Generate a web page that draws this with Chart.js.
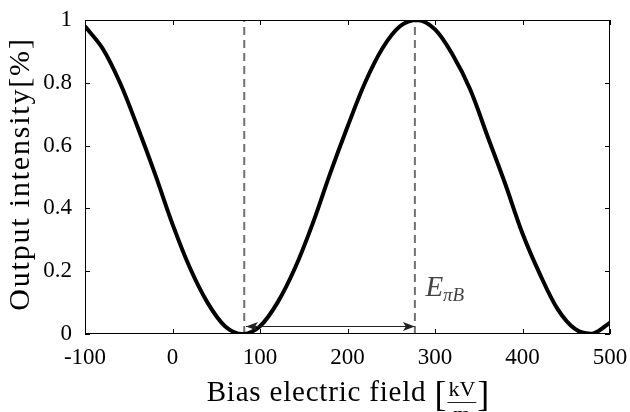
<!DOCTYPE html>
<html>
<head>
<meta charset="utf-8">
<script src="https://cdn.jsdelivr.net/npm/chart.js@4"></script>
<style>
  html, body { margin: 0; padding: 0; background: #fff; }
</style>
</head>
<body>
<canvas id="chart" width="630" height="412"></canvas>
<script>
// bias field [kV/m] and output intensity
const fieldKV = [-100, -80, -60, -40, -20, 0, 20, 40, 60, 80, 100, 120, 140, 160, 180, 200,
    220, 240, 260, 280, 300, 320, 340, 360, 380, 400, 420, 440, 460, 480, 500];
const intensity = [0.98, 0.91, 0.80, 0.66, 0.51, 0.35, 0.21, 0.10, 0.025, 0, 0.025, 0.10, 0.21, 0.35, 0.51, 0.66,
    0.80, 0.91, 0.98, 1.0, 0.97, 0.89, 0.78, 0.63, 0.48, 0.32, 0.19, 0.08, 0.016, 0.001, 0.036];

const xTicks = [-100, 0, 100, 200, 300, 400, 500];
const yTicks = [0, 0.2, 0.4, 0.6, 0.8, 1];

// dashed markers and the E_piB arrow
const markerX = [82, 277];
const arrowFrom = 84, arrowTo = 277, arrowY = 0.025;
const labelX = 289, labelY = 0.12;

const serif = '"Liberation Serif", "DejaVu Serif", serif';

const frame = {
    id: 'frame',
    afterDraw(chart) {
        const ctx = chart.ctx, a = chart.chartArea;
        const xs = chart.scales.x, ys = chart.scales.y;
        ctx.save();
        ctx.strokeStyle = '#000';
        ctx.lineWidth = 1;
        ctx.strokeRect(a.left + 0.5, a.top + 0.5, a.right - a.left - 1, a.bottom - a.top - 1);

        // inward tick marks on all four sides
        ctx.beginPath();
        xTicks.forEach(v => {
            const px = Math.round(xs.getPixelForValue(v)) + 0.5;
            ctx.moveTo(px, a.bottom); ctx.lineTo(px, a.bottom - 5);
            ctx.moveTo(px, a.top); ctx.lineTo(px, a.top + 5);
        });
        yTicks.forEach(v => {
            const py = Math.round(ys.getPixelForValue(v)) + 0.5;
            ctx.moveTo(a.left, py); ctx.lineTo(a.left + 5, py);
            ctx.moveTo(a.right, py); ctx.lineTo(a.right - 5, py);
        });
        ctx.stroke();

        // double arrow
        const x1 = xs.getPixelForValue(arrowFrom), x2 = xs.getPixelForValue(arrowTo);
        const ay = Math.round(ys.getPixelForValue(arrowY)) + 0.5;
        ctx.strokeStyle = '#222';
        ctx.fillStyle = '#222';
        ctx.beginPath();
        ctx.moveTo(x1, ay); ctx.lineTo(x2, ay);
        ctx.stroke();
        [[x1, 1], [x2, -1]].forEach(([tx, d]) => {
            ctx.beginPath();
            ctx.moveTo(tx, ay);
            ctx.lineTo(tx + d * 12, ay - 4.5);
            ctx.lineTo(tx + d * 9, ay);
            ctx.lineTo(tx + d * 12, ay + 4.5);
            ctx.closePath();
            ctx.fill();
        });

        // E_piB label
        const lx = xs.getPixelForValue(labelX), ly = ys.getPixelForValue(labelY);
        ctx.fillStyle = '#444';
        ctx.textBaseline = 'alphabetic';
        ctx.textAlign = 'left';
        ctx.font = 'italic 29px ' + serif;
        ctx.fillText('E', lx, ly);
        const ew = ctx.measureText('E').width;
        ctx.font = 'italic 19px ' + serif;
        ctx.fillText('\u03C0B', lx + ew, ly + 5);

        // y title
        ctx.fillStyle = '#000';
        ctx.save();
        ctx.translate(29, 174);
        ctx.rotate(-Math.PI / 2);
        ctx.textAlign = 'center';
        ctx.font = '30px ' + serif;
        ctx.letterSpacing = '1.8px';
        ctx.fillText('Output intensity[%]', 0, 0);
        ctx.restore();

        // x title with kV/m fraction
        ctx.letterSpacing = '0.8px';
        ctx.font = '29px ' + serif;
        const main = 'Bias electric field ';
        const mw = ctx.measureText(main).width;
        ctx.letterSpacing = '0px';
        ctx.font = '36px ' + serif;
        const bw = ctx.measureText('[').width;
        ctx.font = '22px ' + serif;
        const fw = Math.max(ctx.measureText('kV').width, ctx.measureText('m').width) + 4;
        const total = mw + bw * 2 + fw;
        let cx = 348 - total / 2;
        const base = 401;
        ctx.textAlign = 'left';
        ctx.letterSpacing = '0.8px';
        ctx.font = '29px ' + serif;
        ctx.fillText(main, cx, base);
        ctx.letterSpacing = '0px';
        cx += mw;
        ctx.font = '36px ' + serif;
        ctx.fillText('[', cx, base + 5);
        cx += bw;
        ctx.font = '22px ' + serif;
        ctx.textAlign = 'center';
        ctx.fillText('kV', cx + fw / 2, base - 5);
        ctx.fillText('m', cx + fw / 2, base + 20);
        ctx.lineWidth = 1;
        ctx.beginPath();
        ctx.moveTo(cx + 1, base + 1.5); ctx.lineTo(cx + fw - 1, base + 1.5);
        ctx.stroke();
        cx += fw;
        ctx.textAlign = 'left';
        ctx.font = '36px ' + serif;
        ctx.fillText(']', cx, base + 5);
        ctx.restore();
    }
};

const markerSets = markerX.map(v => ({
    data: [{x: v, y: 0}, {x: v, y: 1}],
    borderColor: '#707070',
    borderWidth: 2,
    borderDash: [8, 5],
    pointRadius: 0,
    fill: false,
    order: 2
}));

new Chart(document.getElementById('chart'), {
    type: 'line',
    data: {
        datasets: [{
            data: fieldKV.map((x, i) => ({x: x, y: intensity[i]})),
            borderColor: '#000',
            borderWidth: 4,
            pointRadius: 0,
            tension: 0.33,
            fill: false,
            order: 1
        }, ...markerSets]
    },
    options: {
        responsive: false,
        animation: false,
        devicePixelRatio: 1,
        layout: {padding: {top: 20, right: 20, left: 0, bottom: 0}},
        plugins: {legend: {display: false}, tooltip: {enabled: false}},
        scales: {
            x: {
                type: 'linear', min: -100, max: 500,
                afterFit: s => { s.height = 78; s.paddingLeft = 0; s.paddingRight = 0; },
                afterBuildTicks: s => { s.ticks = xTicks.map(v => ({value: v})); },
                grid: {display: false, drawTicks: false},
                border: {display: false},
                ticks: {color: '#000', padding: 10, maxRotation: 0, font: {family: serif, size: 23}}
            },
            y: {
                min: 0, max: 1,
                afterFit: s => { s.width = 85; s.paddingTop = 0; s.paddingBottom = 0; },
                afterBuildTicks: s => { s.ticks = yTicks.map(v => ({value: v})); },
                grid: {display: false, drawTicks: false},
                border: {display: false},
                ticks: {
                    color: '#000', padding: 13, font: {family: serif, size: 23},
                    callback: v => (v === 0 || v === 1) ? String(v) : v.toFixed(1)
                }
            }
        }
    },
    plugins: [frame]
});
</script>
</body>
</html>
